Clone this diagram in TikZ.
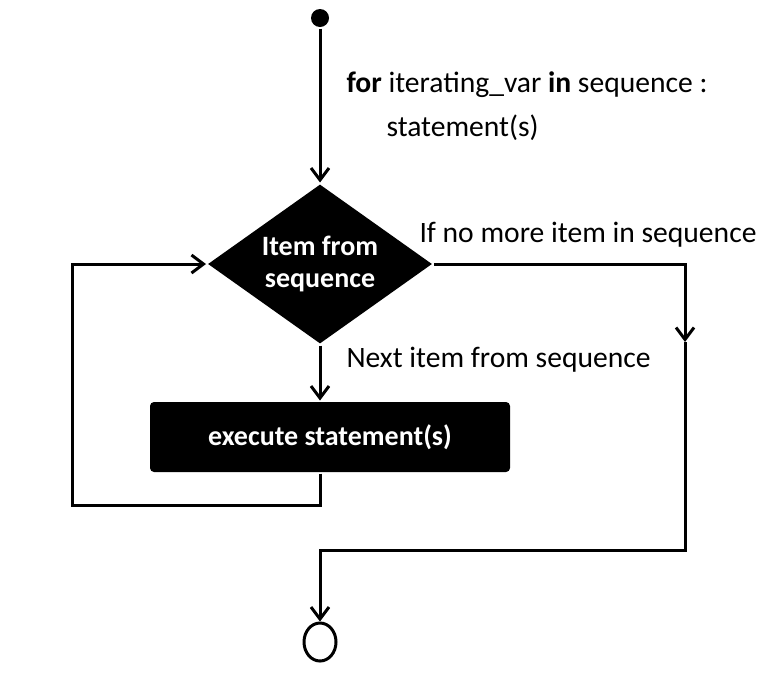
\documentclass[tikz,border=0pt]{standalone}
\usepackage{fontspec}
\setmainfont{Carlito}
\usetikzlibrary{positioning,shapes,arrows.meta}
\tikzstyle{dec}=[%
      diamond, fill=black, text=white, font=\fontsize{14}{16}\selectfont\bfseries, align=center,
      inner sep=0pt, aspect=1.4, minimum width=112.5pt, minimum height=80pt
]
\tikzstyle{act}=[%
      rectangle, rounded corners=2pt, fill=black, text=white, font=\fontsize{14}{16}\selectfont\bfseries,
      minimum width=180pt, minimum height=35pt
]
\tikzstyle{init}=[%
      circle, fill=black, minimum size=9pt, inner sep=0pt
]
\tikzstyle{final}=[%
      ellipse, draw=black, line width=1.5pt, minimum width=16pt, minimum height=19pt, inner sep=0pt
]
\tikzstyle{lbl}=[%
      anchor=west, inner sep=0pt
]

\begin{document}
\begin{tikzpicture}[x=0.5pt, y=-0.5pt,
    line width=1.5pt,
    >={Straight Barb[length=6pt,width=9pt]},
    font=\fontsize{14.8}{17}\selectfont
  ]
    \useasboundingbox (0,0) rectangle (779,681);

    \node[init]  (start) at (320,18)  {};
    \node[dec]   (item)  at (320,264) {Item from\\sequence};
    \node[act]   (exec)  at (330,437) {execute statement(s)};
    \node[final] (stop)  at (320,642) {};

    \node[lbl] (forline) at (345,85)  {\textbf{for} iterating\_var \textbf{in} sequence :};
    \node[lbl] (stmt)    at (385,128) {statement(s)};
    \node[lbl] (nomore)  at (418,235) {If no more item in sequence};
    \node[lbl] (next)    at (345,360) {Next item from sequence};

    \coordinate (loopl) at (72,505);
    \coordinate (rmid)  at (685,342);
    \coordinate (rbot)  at (685,550);

    \draw[->] (start) -- (item.north);
    \draw[->] (item.south) -- (item.south |- exec.north);
    \draw[->] (exec.south -| item.south) |- (loopl) |- (item.west);
    \draw[->] (item.east) -| (rmid);
    \draw[->] (rmid) -- (rbot) -| (stop.north);
  \end{tikzpicture}
\end{document}
